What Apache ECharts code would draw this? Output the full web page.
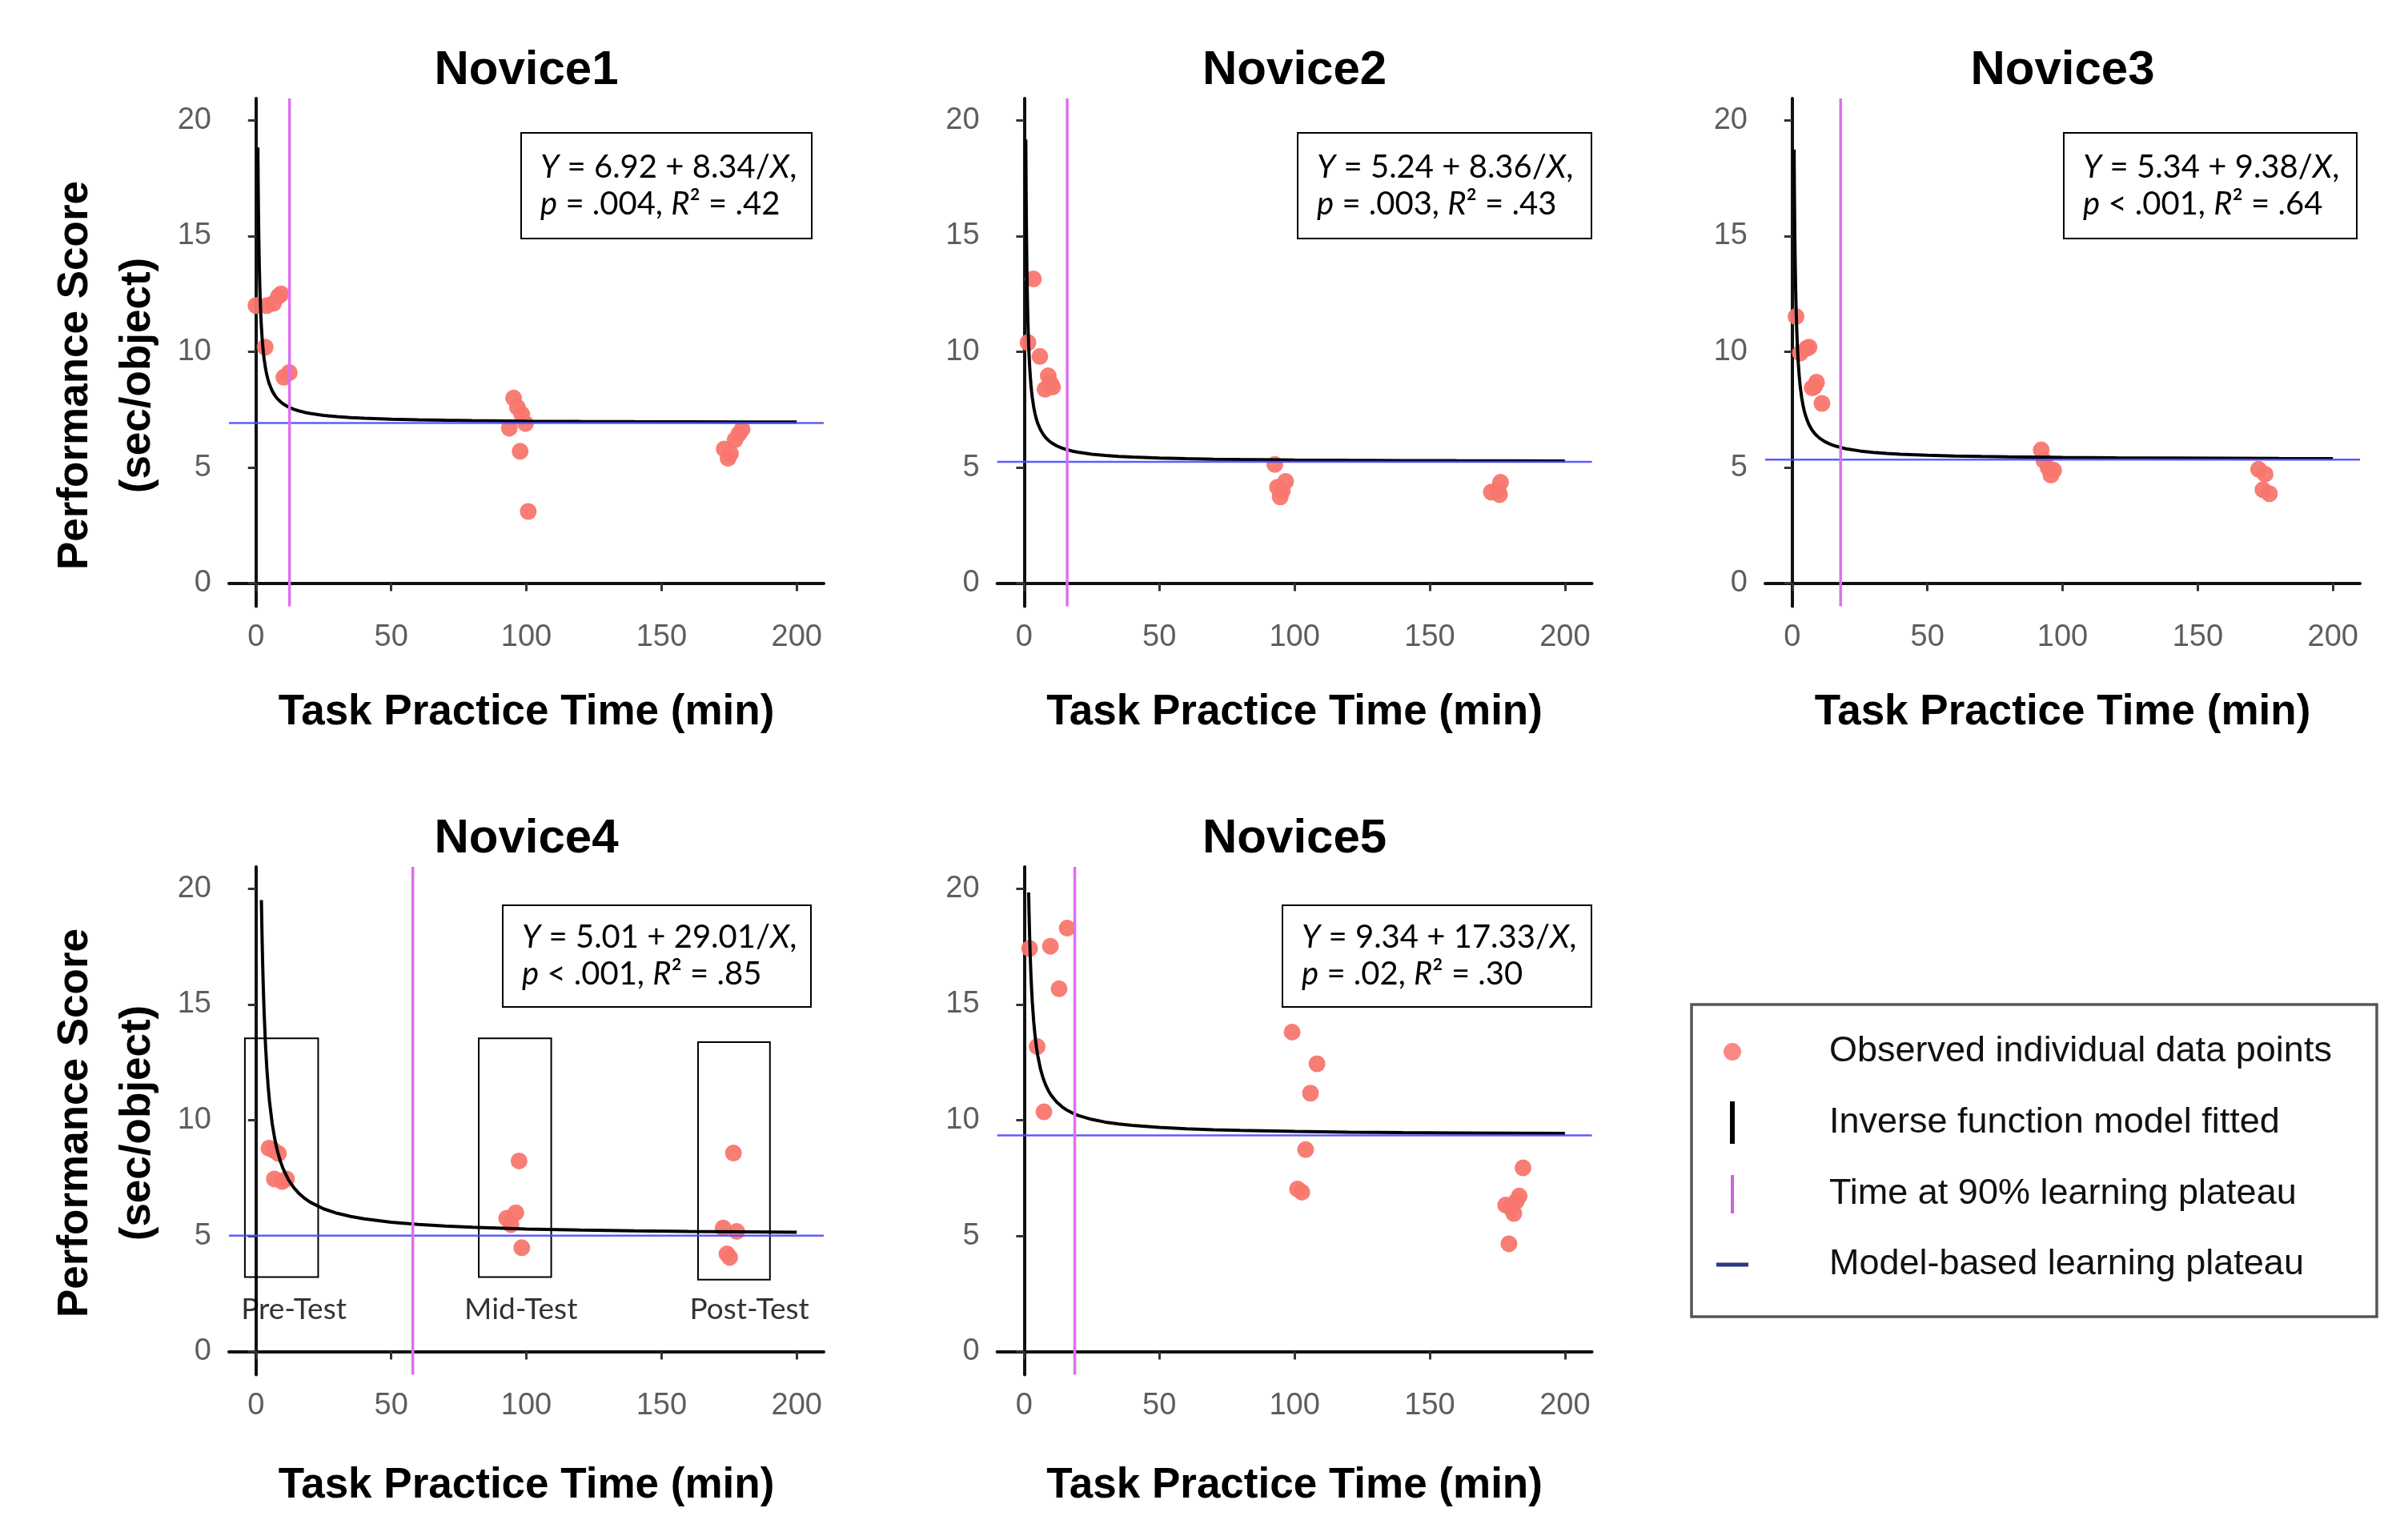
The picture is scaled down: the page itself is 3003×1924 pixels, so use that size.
<!DOCTYPE html>
<html>
<head>
<meta charset="utf-8">
<script src="https://cdn.jsdelivr.net/npm/echarts@6/dist/echarts.min.js"></script>
<style>html,body{margin:0;padding:0;background:#fff}#chart{width:3003px;height:1924px}</style>
</head>
<body>
<div id="chart"></div>
<script>
// ---------------- data ----------------
const panelNames = ['Novice1', 'Novice2', 'Novice3', 'Novice4', 'Novice5'];
const xTicks = [0, 50, 100, 150, 200];
const yTicks = [0, 5, 10, 15, 20];

const n1X = [0, 4, 6.5, 8.3, 9.3, 3.4, 10.3, 12.3, 95.3, 96.7, 98.3, 93.7, 99.7, 97.7, 100.7, 173.2, 174.6, 175.5, 177.2, 178.6, 179.8];
const n1Y = [12.0, 12.0, 12.1, 12.4, 12.5, 10.2, 8.9, 9.1, 8.0, 7.6, 7.3, 6.7, 6.9, 5.7, 3.1, 5.8, 5.4, 5.6, 6.2, 6.45, 6.65];
const n2X = [3.4, 1.4, 5.8, 8.9, 9.7, 7.7, 10.5, 92.7, 93.7, 96.7, 94.7, 95.5, 172.8, 175.2, 176.2, 175.8];
const n2Y = [13.15, 10.4, 9.8, 8.96, 8.65, 8.38, 8.48, 5.13, 4.15, 4.4, 3.73, 4.0, 3.94, 4.04, 4.36, 3.83];
const n3X = [1.4, 3, 5.4, 6.2, 9, 7.4, 8.2, 11, 92.1, 93.1, 94.7, 96.7, 95.7, 172.5, 174.9, 174.1, 176.5];
const n3Y = [11.52, 9.95, 10.16, 10.2, 8.69, 8.44, 8.5, 7.77, 5.76, 5.3, 4.98, 4.88, 4.67, 4.92, 4.71, 4.04, 3.87];
const n4X = [4.8, 8.3, 6.5, 6.8, 9.7, 11.3, 97.3, 92.7, 96.1, 94.3, 98.3, 176.6, 172.8, 177.8, 174.2, 175.2];
const n4Y = [8.79, 8.56, 8.7, 7.46, 7.35, 7.46, 8.24, 5.76, 6.0, 5.49, 4.49, 8.58, 5.34, 5.19, 4.22, 4.07];
const n5X = [2, 9.7, 15.9, 12.9, 4.8, 7.3, 99.1, 108.3, 105.9, 104.1, 101.1, 102.7, 184.5, 183.1, 178.1, 180.1, 181.1, 182, 179.3];
const n5Y = [17.42, 17.52, 18.3, 15.68, 13.18, 10.36, 13.81, 12.44, 11.17, 8.73, 7.03, 6.89, 7.94, 6.72, 6.33, 6.19, 5.97, 6.5, 4.66];

const obsX = [n1X, n2X, n3X, n4X, n5X];
const obsY = [n1Y, n2Y, n3Y, n4Y, n5Y];

// fitted inverse models Y = a + b / X (coefficients as printed in the chart)
const intercepts = [6.92, 5.24, 5.34, 5.01, 9.34];
const slopes = [8.34, 8.36, 9.38, 29.01, 17.33];
const curveStartX = [0.7, 0.6, 0.7, 2.0, 1.65];
const curveSampleX = [0.6, 0.65, 0.7, 0.75, 0.8, 0.9, 1, 1.1, 1.25, 1.4, 1.5, 1.65, 1.8, 2, 2.25, 2.5, 2.75, 3, 3.5, 4, 4.5, 5, 6, 7, 8, 9, 10, 12, 14, 16, 18, 20, 25, 30, 35, 40, 50, 60, 70, 80, 100, 120, 140, 160, 180, 200];
const plateauTime = [12.4, 15.9, 17.9, 58, 18.7];
const pOps = ['=', '=', '<', '<', '='];
const pVals = ['.004', '.003', '.001', '.001', '.02'];
const r2Vals = ['.42', '.43', '.64', '.85', '.30'];

const testLabels = ['Pre-Test', 'Mid-Test', 'Post-Test'];
const testLabelX = [14.0, 98, 182.5];
const testLabelY = [1.8, 1.8, 1.8];
const testBoxX1 = [-4.1, 82.4, 163.5];
const testBoxX2 = [23.0, 109.2, 190.1];
const testBoxY1 = [3.22, 3.22, 3.11];
const testBoxY2 = [13.54, 13.54, 13.37];

const legendNames = ['Observed individual data points', 'Inverse function model fitted', 'Time at 90% learning plateau', 'Model-based learning plateau'];

// ---------------- layout / style ----------------
const X_MIN = -10, X_MAX = 210, Y_MIN = -1, Y_MAX = 20.95;
const gridLeft = [286, 1245.6, 2205, 286, 1245.6];
const gridTop = [123, 123, 123, 1083, 1083];
const GW = 743, GH = 634.5;
const boxes = [
  {x: 651, y: 166, w: 363, h: 132},
  {x: 1621, y: 166, w: 367, h: 132},
  {x: 2578, y: 166, w: 366, h: 132},
  {x: 628, y: 1131, w: 385, h: 127},
  {x: 1602, y: 1131, w: 386, h: 127}
];
const SANS = '"Liberation Sans", Arial, Helvetica, sans-serif';
const CAL = 'Lato, "Open Sans", sans-serif';
const COL_PT = '#F8766D', COL_FIT = '#000000', COL_V = '#DD70EE', COL_H = '#4b4bff';

const grids = [], xAxes = [], yAxes = [], series = [], graphics = [];

for (let i = 0; i < 5; i++) {
  grids.push({left: gridLeft[i], top: gridTop[i], width: GW, height: GH, containLabel: false});
  const axisCommon = {
    type: 'value', gridIndex: i,
    axisLine: {show: true, lineStyle: {color: '#111', width: 4}},
    axisTick: {show: true, length: 10, lineStyle: {color: '#333', width: 3}},
    splitLine: {show: false},
    axisLabel: {color: '#5e5e5e', fontSize: 38, fontFamily: SANS}
  };
  xAxes.push(Object.assign({}, axisCommon, {
    min: X_MIN, max: X_MAX,
    axisTick: Object.assign({}, axisCommon.axisTick, {customValues: xTicks}),
    axisLabel: Object.assign({}, axisCommon.axisLabel, {customValues: xTicks, margin: 20}),
    name: 'Task Practice Time (min)', nameLocation: 'middle', nameGap: i < 3 ? 106 : 112,
    nameTextStyle: {fontSize: 53, fontWeight: 'bold', color: '#000', fontFamily: SANS}
  }));
  yAxes.push(Object.assign({}, axisCommon, {
    min: Y_MIN, max: Y_MAX,
    axisTick: Object.assign({}, axisCommon.axisTick, {customValues: yTicks}),
    axisLabel: Object.assign({}, axisCommon.axisLabel, {customValues: yTicks, margin: 22})
  }));

  // observed points
  series.push({
    name: legendNames[0], type: 'scatter', xAxisIndex: i, yAxisIndex: i,
    symbolSize: 21, itemStyle: {color: COL_PT, opacity: 0.95}, z: 3,
    data: obsX[i].map((x, k) => [x, obsY[i][k]])
  });
  // fitted inverse-function curve
  const xs = [curveStartX[i]].concat(curveSampleX.filter(x => x > curveStartX[i]));
  series.push({
    name: legendNames[1], type: 'line', xAxisIndex: i, yAxisIndex: i,
    showSymbol: false, symbol: 'none', z: 4,
    lineStyle: {color: COL_FIT, width: 4},
    data: xs.map(x => [x, intercepts[i] + slopes[i] / x])
  });
  // plateau horizontal line
  series.push({
    name: legendNames[3], type: 'line', xAxisIndex: i, yAxisIndex: i,
    showSymbol: false, symbol: 'none', z: 5,
    lineStyle: {color: COL_H, width: 2.5, opacity: 0.9},
    data: [[X_MIN, intercepts[i]], [X_MAX, intercepts[i]]]
  });
  // 90% plateau time vertical line
  series.push({
    name: legendNames[2], type: 'line', xAxisIndex: i, yAxisIndex: i,
    showSymbol: false, symbol: 'none', z: 5,
    lineStyle: {color: COL_V, width: 3.5},
    data: [[plateauTime[i], Y_MIN], [plateauTime[i], Y_MAX]]
  });

  // panel title
  graphics.push({
    type: 'text', x: gridLeft[i] + GW / 2, y: gridTop[i] - 35,
    style: {text: panelNames[i], fontSize: 60, fontWeight: 'bold', fontFamily: SANS, fill: '#000',
            align: 'center', verticalAlign: 'middle', textAlign: 'center', textVerticalAlign: 'middle'}
  });
  // equation box
  const b = boxes[i];
  graphics.push({
    type: 'rect', shape: {x: b.x, y: b.y, width: b.w, height: b.h},
    style: {fill: '#fff', stroke: '#000', lineWidth: 2}, z: 10
  });
  const rich = {i: {fontStyle: 'italic', fontSize: 40, fontFamily: CAL, lineHeight: 46, fill: '#000'}};
  graphics.push({
    type: 'text', x: b.x + 24, y: b.y + b.h / 2, z: 11,
    style: {
      text: '{i|Y} = ' + intercepts[i].toFixed(2) + ' + ' + slopes[i].toFixed(2) + '/{i|X},\n{i|p} ' + pOps[i] + ' ' + pVals[i] + ', {i|R}\u00b2 = ' + r2Vals[i],
      fontSize: 40, fontFamily: CAL, lineHeight: 46, fill: '#000',
      align: 'left', verticalAlign: 'middle', textAlign: 'left', textVerticalAlign: 'middle',
      rich: rich
    }
  });
}

// y-axis titles (rows)
[469, 1403].forEach(cy => {
  graphics.push({
    type: 'text', x: 133, y: cy, rotation: Math.PI / 2,
    style: {text: 'Performance Score\n(sec/object)', fontSize: 53, fontWeight: 'bold', fontFamily: SANS,
            fill: '#000', lineHeight: 78, align: 'center', verticalAlign: 'middle',
            textAlign: 'center', textVerticalAlign: 'middle'}
  });
});

// test-phase boxes and labels in Novice4
series.push({
  name: 'Test phases', type: 'scatter', xAxisIndex: 3, yAxisIndex: 3,
  symbolSize: 0, z: 6,
  label: {show: true, position: 'inside', formatter: '{b}', fontSize: 37, fontFamily: CAL, color: '#000'},
  data: testLabels.map((t, k) => ({name: t, value: [testLabelX[k], testLabelY[k]]})),
  markArea: {
    silent: true,
    itemStyle: {color: 'rgba(0,0,0,0)', borderColor: '#000', borderWidth: 2},
    label: {show: false},
    data: testLabels.map((t, k) => [{coord: [testBoxX1[k], testBoxY1[k]]}, {coord: [testBoxX2[k], testBoxY2[k]]}])
  }
});

// legend frame
graphics.push({
  type: 'rect', shape: {x: 2113, y: 1255, width: 856, height: 390},
  style: {fill: 'none', stroke: '#555', lineWidth: 3.5}
});

const legendText = {fontSize: 45, fontFamily: SANS, color: '#111', lineHeight: 52};
const legends = [
  {icon: 'circle', color: COL_PT, w: 22, h: 22, left: 2153, top: 1288, pad: 105},
  {icon: 'rect', color: '#000', w: 6, h: 53, left: 2161, top: 1376, pad: 113},
  {icon: 'rect', color: '#cc66dd', w: 4, h: 48, left: 2162, top: 1466, pad: 114},
  {icon: 'rect', color: '#2b3a80', w: 40, h: 5, left: 2144, top: 1554, pad: 96}
].map((l, k) => ({
  show: true, orient: 'vertical', left: l.left, top: l.top, padding: 0,
  itemWidth: l.w, itemHeight: l.h, selectedMode: false,
  data: [{name: legendNames[k], icon: l.icon, itemStyle: {color: l.color, borderWidth: 0, opacity: k === 0 ? 0.85 : 1}}],
  textStyle: Object.assign({}, legendText, {padding: [0, 0, 0, l.pad]})
}));

const chart = echarts.init(document.getElementById('chart'), null, {width: 3003, height: 1924});
chart.setOption({
  backgroundColor: '#ffffff',
  animation: false,
  grid: grids, xAxis: xAxes, yAxis: yAxes,
  legend: legends,
  series: series,
  graphic: graphics
});
</script>
</body>
</html>
